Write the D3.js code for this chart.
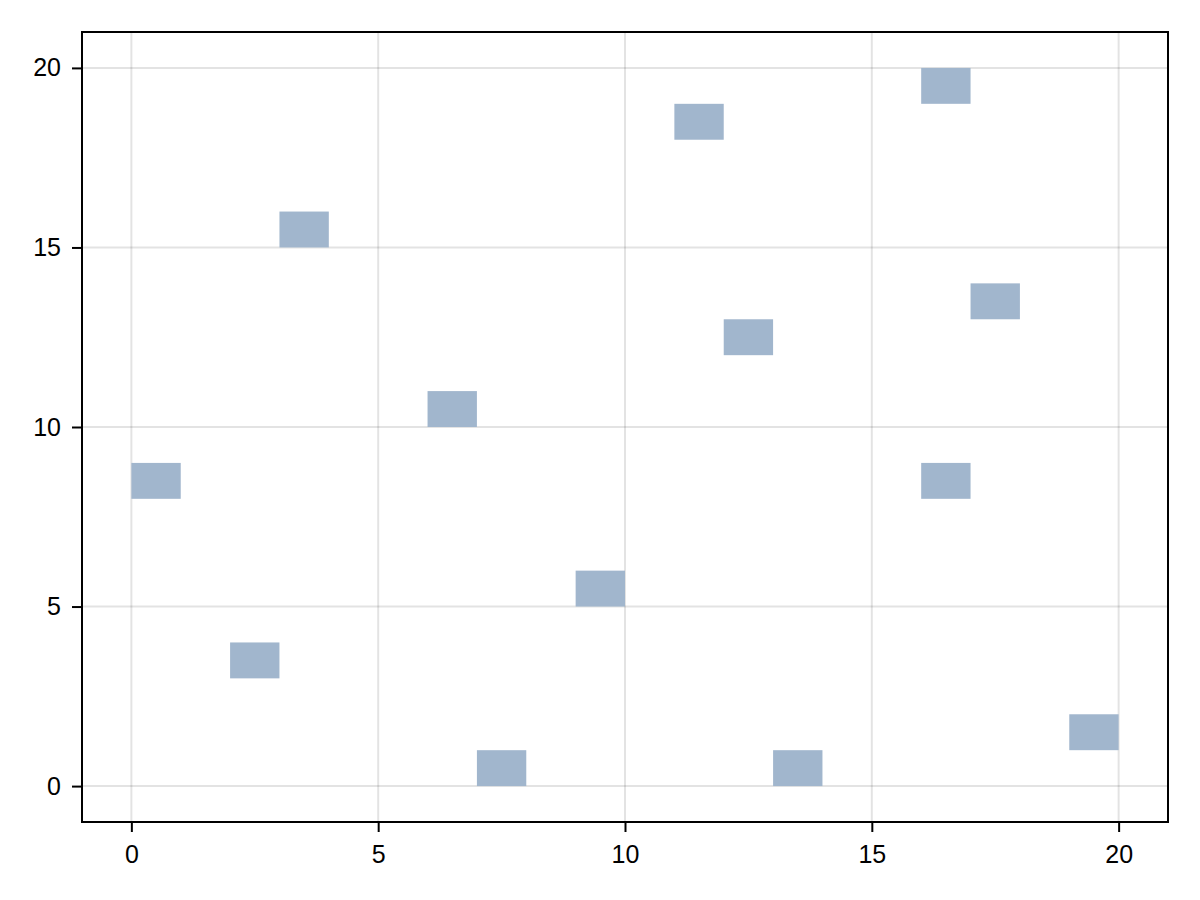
<!DOCTYPE html>
<html>
<head>
<meta charset="utf-8">
<script src="https://cdn.jsdelivr.net/npm/d3@7"></script>
<style>
html,body{margin:0;padding:0;background:#fff;}
svg{display:block;}
</style>
</head>
<body>
<svg id="chart" width="1200" height="900"></svg>
<script>
const cellX = [0, 3, 2, 6, 7, 9, 11, 12, 13, 16, 16, 17, 19];
const cellY = [8, 15, 3, 10, 0, 5, 18, 12, 0, 19, 8, 13, 1];
const xTicks = [0, 5, 10, 15, 20];
const yTicks = [0, 5, 10, 15, 20];

const W = 1200, H = 900;
const m = {left: 82, right: 32, top: 32, bottom: 78};
const svg = d3.select("#chart");
const x = d3.scaleLinear().domain([-1, 21]).range([m.left, W - m.right]);
const y = d3.scaleLinear().domain([-1, 21]).range([H - m.bottom, m.top]);

// grid
const grid = svg.append("g");
grid.selectAll("line.vx").data(xTicks).join("line")
  .attr("x1", d => x(d)).attr("x2", d => x(d))
  .attr("y1", m.top).attr("y2", H - m.bottom)
  .attr("stroke", "rgba(0,0,0,0.11)").attr("stroke-width", 2);
grid.selectAll("line.hy").data(yTicks).join("line")
  .attr("y1", d => y(d)).attr("y2", d => y(d))
  .attr("x1", m.left).attr("x2", W - m.right)
  .attr("stroke", "rgba(0,0,0,0.11)").attr("stroke-width", 2);

// cells
svg.append("g").selectAll("rect").data(cellX.map((d, i) => ({x: d, y: cellY[i]}))).join("rect")
  .attr("x", d => x(d.x))
  .attr("y", d => y(d.y + 1))
  .attr("width", d => x(d.x + 1) - x(d.x))
  .attr("height", d => y(d.y) - y(d.y + 1))
  .attr("fill", "#a1b6cd");

// frame
svg.append("rect")
  .attr("x", m.left).attr("y", m.top)
  .attr("width", W - m.left - m.right).attr("height", H - m.top - m.bottom)
  .attr("fill", "none").attr("stroke", "#000").attr("stroke-width", 2);

// axes
const xAxis = d3.axisBottom(x).tickValues(xTicks).tickSize(10).tickPadding(13).tickFormat(d3.format("d"));
const yAxis = d3.axisLeft(y).tickValues(yTicks).tickSize(10).tickPadding(11).tickFormat(d3.format("d"));
const gx = svg.append("g").attr("transform", `translate(0,${H - m.bottom})`).call(xAxis);
const gy = svg.append("g").attr("transform", `translate(${m.left},0)`).call(yAxis);
[gx, gy].forEach(g => {
  g.select(".domain").remove();
  g.attr("font-size", null).attr("font-family", null);
  g.selectAll(".tick line").attr("stroke", "#000").attr("stroke-width", 2);
  g.selectAll(".tick text").attr("fill", "#000")
    .style("font-family", "'Liberation Sans', Arial, sans-serif").style("font-size", "25px");
});
</script>
</body>
</html>
